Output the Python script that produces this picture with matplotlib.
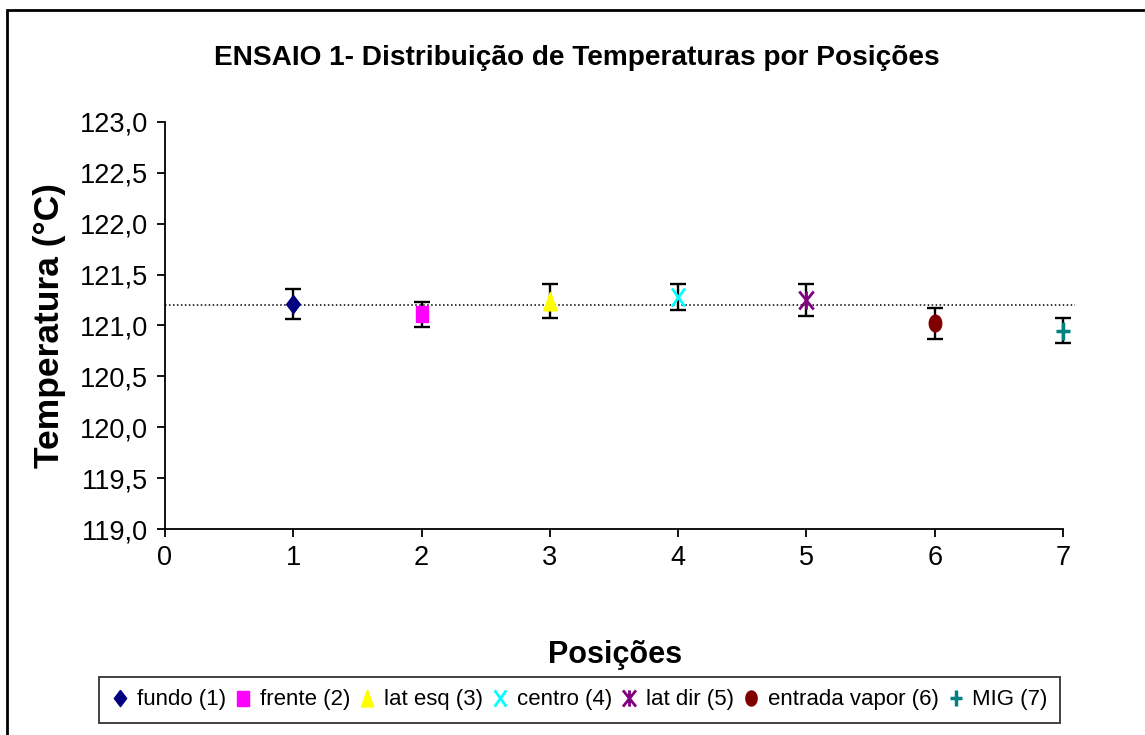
import matplotlib
matplotlib.use("Agg")
import matplotlib.pyplot as plt
from matplotlib.path import Path
import numpy as np

# ---- data ----
positions = [1, 2, 3, 4, 5, 6, 7]
labels = ["fundo (1)", "frente (2)", "lat esq (3)", "centro (4)",
          "lat dir (5)", "entrada vapor (6)", "MIG (7)"]
temps = [121.21, 121.11, 121.24, 121.28, 121.25, 121.02, 120.95]
errors = [0.145, 0.12, 0.165, 0.128, 0.157, 0.155, 0.125]
reference_temp = 121.2
colors = ["#000080", "#FF00FF", "#FFFF00", "#00FFFF", "#800080",
          "#800000", "#008080"]
yticks = [119.0, 119.5, 120.0, 120.5, 121.0, 121.5, 122.0, 122.5, 123.0]
ytick_labels = ["119,0", "119,5", "120,0", "120,5", "121,0", "121,5",
                "122,0", "122,5", "123,0"]
xticks = [0, 1, 2, 3, 4, 5, 6, 7]

M, L = Path.MOVETO, Path.LINETO

# Excel-like markers, slightly taller than wide
diamond = Path([(0, 1), (0.76, 0), (0, -1), (-0.76, 0), (0, 1)])
square = Path([(-0.75, -1), (0.75, -1), (0.75, 1), (-0.75, 1), (-0.75, -1)])
triangle = Path([(0, 1), (0.72, -1), (-0.72, -1), (0, 1)])
cross = Path([(-0.72, -1), (0.72, 1), (-0.72, 1), (0.72, -1)], [M, L, M, L])
star = Path([(-0.8, -1), (0.8, 1), (-0.8, 1), (0.8, -1), (0, 1), (0, -1)],
            [M, L, M, L, M, L])
t = np.linspace(0, 2 * np.pi, 40)
ellipse = Path(np.column_stack([0.75 * np.cos(t), np.sin(t)]))
plus = Path([(-0.76, 0), (0.76, 0), (0, 1), (0, -1)], [M, L, M, L])

markers = [diamond, square, triangle, cross, star, ellipse, plus]
msizes = [13.0, 12.0, 13.5, 13.0, 13.0, 12.0, 12.5]
filled = [True, True, True, False, False, True, False]
mew = [1.0, 1.0, 1.0, 2.0, 2.0, 1.0, 2.5]

plt.rcParams["font.family"] = ["Liberation Sans", "DejaVu Sans"]

fig = plt.figure(figsize=(11.45, 7.35), dpi=100)
ax = fig.add_axes([165 / 1145, 1 - 529.3 / 735,
                   (1063 - 165) / 1145, (529.3 - 121.7) / 735])

# reference line
ax.plot([0, 7.09], [reference_temp, reference_temp], color="black",
        lw=1.1, linestyle=(0, (1, 1.6)), clip_on=False, zorder=1)

eb = ax.errorbar(positions, temps, yerr=errors, fmt="none", ecolor="black",
                 elinewidth=1.7, capsize=5.8, capthick=1.7, zorder=2)
for art in eb.lines[1] + eb.lines[2]:
    art.set_clip_on(False)

handles = []
for x, y, lab, c, mk, ms, f, w in zip(positions, temps, labels, colors,
                                      markers, msizes, filled, mew):
    h, = ax.plot([x], [y], linestyle="none", marker=mk, markersize=ms,
                 markerfacecolor=c if f else "none", markeredgecolor=c,
                 markeredgewidth=w, label=lab, zorder=3, clip_on=False)
    handles.append(h)

ax.set_xlim(0, 7)
ax.set_ylim(119, 123)
ax.set_xticks(xticks)
ax.set_xticklabels([str(v) for v in xticks])
ax.set_yticks(yticks)
ax.set_yticklabels(ytick_labels)
ax.tick_params(direction="out", length=6, width=1.3, labelsize=19.5,
               colors="black", pad=6)
ax.tick_params(axis="x", pad=5)
for s in ["top", "right"]:
    ax.spines[s].set_visible(False)
for s in ["left", "bottom"]:
    ax.spines[s].set_linewidth(1.3)

ax.set_ylabel("Temperatura (°C)", fontsize=25.5, fontweight="bold",
              labelpad=10)
fig.text(615 / 1145, 1 - 655 / 735, "Posições", fontsize=22,
         fontweight="bold", ha="center", va="center")
fig.text(577 / 1145, 1 - 58 / 735,
         "ENSAIO 1- Distribuição de Temperaturas por Posições",
         fontsize=20.2, fontweight="bold", ha="center", va="center")

leg = fig.legend(handles=handles, loc="center", ncol=7, mode="expand",
                 bbox_to_anchor=(99 / 1145, 1 - 729 / 735, 961 / 1145, 58 / 735),
                 fontsize=16, frameon=True, fancybox=False, borderpad=0.55,
                 handlelength=0.8, handletextpad=0.35, columnspacing=0.4,
                 markerscale=0.9, borderaxespad=0)
leg.get_frame().set_edgecolor("black")
leg.get_frame().set_linewidth(1.3)

# outer chart border
fig.add_artist(plt.Rectangle((6.5 / 1145, -0.2), 1.2, 1.2 - 9.5 / 735,
                             fill=False, edgecolor="black", lw=2,
                             transform=fig.transFigure))

fig.savefig("out.png", dpi=100)
